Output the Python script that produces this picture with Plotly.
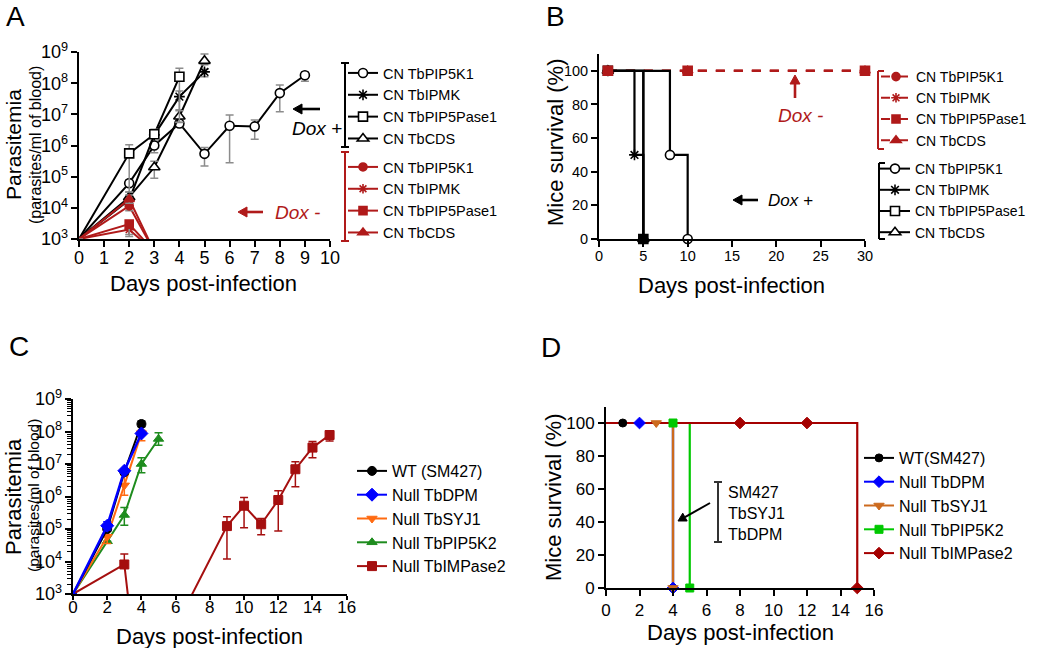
import numpy as np
import plotly.graph_objects as go

W, H = 1050, 648
FONT = "Liberation Sans, Arial, Helvetica, sans-serif"
RED = "#B01A1A"
GRAY = "#8C8C8C"

# ---------------- Panel A: parasitemia (parasites/ml) ----------------
a_days_k1 = [0, 2, 3, 4, 5, 6, 7, 8, 9]
a_k1_plus = [1e3, 6.2e4, 1.0e6, 5.1e6, 5.4e5, 4.3e6, 4.1e6, 4.8e7, 1.8e8]
a_k1_plus_hi = [1e3, 8.0e4, 1.4e6, 6.3e6, 8.7e5, 9.5e6, 6.6e6, 8.7e7, 2.3e8]
a_k1_plus_lo = [1e3, 5.0e4, 5.9e5, 4.0e6, 2.2e5, 2.8e5, 1.6e6, 1.2e7, 1.15e8]

a_days_ipmk = [0, 2, 3, 4, 5]
a_ipmk_plus = [1e3, 1.8e4, 2.2e6, 3.7e7, 2.3e8]
a_ipmk_plus_hi = [1e3, 2.5e4, 2.8e6, 5.6e7, 2.8e8]
a_ipmk_plus_lo = [1e3, 1.4e4, 1.8e6, 1.4e7, 1.6e8]

a_days_pase = [0, 2, 3, 4]
a_pase_plus = [1e3, 5.6e5, 2.3e6, 1.6e8]
a_pase_plus_hi = [1e3, 1.05e6, 3.3e6, 3.0e8]
a_pase_plus_lo = [1e3, 3.2e4, 1.95e6, 5.6e6]

a_days_cds = [0, 2, 3, 4, 5]
a_cds_plus = [1e3, 2.2e4, 2.0e5, 8.5e6, 5.2e8]
a_cds_plus_hi = [1e3, 3.2e4, 3.1e5, 1.3e7, 8.7e8]
a_cds_plus_lo = [1e3, 1.6e4, 8.9e4, 5.5e6, 3.9e8]

a_days_minus = [0, 2, 3]
a_k1_minus = [1e3, 1.15e4, 4e2]
a_k1_minus_hi = [1e3, 1.7e4, 4e2]
a_k1_minus_lo = [1e3, 8.0e3, 4e2]
a_ipmk_minus = [1e3, 2.0e3, 4e2]
a_ipmk_minus_hi = [1e3, 2.6e3, 4e2]
a_ipmk_minus_lo = [1e3, 1.4e3, 4e2]
a_pase_minus = [1e3, 3.0e3, 4e2]
a_pase_minus_hi = [1e3, 3.6e3, 4e2]
a_pase_minus_lo = [1e3, 1.2e3, 4e2]
a_cds_minus = [1e3, 1.9e4, 4e2]
a_cds_minus_hi = [1e3, 2.6e4, 4e2]
a_cds_minus_lo = [1e3, 1.4e4, 4e2]

# ---------------- Panel B: survival (%) ----------------
b_days_minus = [1, 10, 30]
b_k1_minus = [100, 100, 100]
b_ipmk_minus = [100, 100, 100]
b_pase_minus = [100, 100, 100]
b_cds_minus = [100, 100, 100]
b_days_k1 = [1, 8, 10]
b_k1_plus = [100, 50, 0]
b_days_ipmk = [1, 4, 5]
b_ipmk_plus = [100, 50, 0]
b_days_pase = [1, 5]
b_pase_plus = [100, 0]
b_days_cds = [1, 5]
b_cds_plus = [100, 0]

# ---------------- Panel C: parasitemia (parasites/ml) ----------------
c_days_wt = [0, 2, 3, 4]
c_wt = [1e3, 1.0e5, 5.6e6, 1.7e8]
c_wt_hi = [1e3, 1.15e5, 6.3e6, 2.1e8]
c_wt_lo = [1e3, 8.7e4, 5.0e6, 1.4e8]
c_days_dpm = [0, 2, 3, 4]
c_dpm = [1e3, 1.26e5, 6.2e6, 8.7e7]
c_dpm_hi = [1e3, 1.66e5, 6.9e6, 9.5e7]
c_dpm_lo = [1e3, 9.3e4, 5.5e6, 8.0e7]
c_days_syj = [0, 2, 3, 4]
c_syj = [1e3, 5.8e4, 2.2e6, 8.9e7]
c_syj_hi = [1e3, 6.6e4, 4.6e6, 1.1e8]
c_syj_lo = [1e3, 3.6e4, 1.1e6, 5.2e7]
c_days_k2 = [0, 2, 3, 4, 5]
c_k2 = [1e3, 4.2e4, 2.7e5, 1.0e7, 5.9e7]
c_k2_hi = [1e3, 4.2e4, 4.6e5, 1.55e7, 9.1e7]
c_k2_lo = [1e3, 4.2e4, 1.3e5, 5.4e6, 3.8e7]
c_days_imp = [0, 3, 4, 6, 9, 10, 11, 12, 13, 14, 15]
c_imp = [1e3, 8.1e3, 0.25, 100, 1.23e5, 5.2e5, 1.4e5, 7.8e5, 6.9e6, 3.2e7, 7.8e7]
c_imp_hi = [1e3, 1.7e4, 0.25, 100, 2.4e5, 9.3e5, 2.1e5, 1.5e6, 1.17e7, 4.9e7, 9.1e7]
c_imp_lo = [1e3, 8.1e3, 0.25, 100, 1.2e4, 1.1e5, 6.6e4, 8.7e4, 2.0e6, 1.55e7, 5.1e7]

# ---------------- Panel D: survival (%) ----------------
d_days_wt = [0, 1, 4]
d_wt = [100, 100, 0]
d_days_dpm = [0, 2, 4]
d_dpm = [100, 100, 0]
d_days_syj = [0, 3, 4]
d_syj = [100, 100, 0]
d_days_k2 = [0, 4, 5]
d_k2 = [100, 100, 0]
d_days_imp = [0, 8, 12, 15]
d_imp = [100, 100, 100, 0]

names_a = ["CN TbPIP5K1", "CN TbIPMK", "CN TbPIP5Pase1", "CN TbCDS"]
names_c = ["WT (SM427)", "Null TbDPM", "Null TbSYJ1", "Null TbPIP5K2", "Null TbIMPase2"]
names_d = ["WT(SM427)", "Null TbDPM", "Null TbSYJ1", "Null TbPIP5K2", "Null TbIMPase2"]


def px(x):
    return x / W


def py(y):
    return 1 - y / H


def line_tr(x, y, color, xa, ya, width=2, dash="solid", shape="linear"):
    return go.Scatter(x=x, y=y, mode="lines", xaxis=xa, yaxis=ya, showlegend=False,
                      hoverinfo="skip",
                      line=dict(color=color, width=width, dash=dash, shape=shape))


def mark_tr(x, y, xa, ya, symbol, size, fill, edge, ew, lo=None, hi=None,
            ecolor=None, mask=None):
    x = np.asarray(x, float)
    y = np.asarray(y, float)
    if mask is None:
        mask = np.ones(len(x), bool)
    err = None
    if lo is not None:
        lo = np.asarray(lo, float)
        hi = np.asarray(hi, float)
        err = dict(type="data", symmetric=False, array=(hi - y)[mask],
                   arrayminus=(y - lo)[mask], color=ecolor, thickness=1.5, width=4)
    return go.Scatter(x=x[mask], y=y[mask], mode="markers", xaxis=xa, yaxis=ya,
                      showlegend=False, hoverinfo="skip", cliponaxis=False,
                      marker=dict(symbol=symbol, size=size, color=fill,
                                  line=dict(color=edge, width=ew)),
                      error_y=err)


def leg_tr(name, legend, color, symbol, size, fill, edge, ew, width=2, dash="solid"):
    return go.Scatter(x=[None], y=[None], mode="lines+markers", name=name,
                      legend=legend, xaxis="x", yaxis="y", showlegend=True,
                      line=dict(color=color, width=width, dash=dash),
                      marker=dict(symbol=symbol, size=size, color=fill,
                                  line=dict(color=edge, width=ew)))


fig = go.Figure()

# ---------- Panel A traces ----------
a_plus = [
    (a_days_k1, a_k1_plus, a_k1_plus_lo, a_k1_plus_hi, "circle", 9, "white", 1.6),
    (a_days_ipmk, a_ipmk_plus, a_ipmk_plus_lo, a_ipmk_plus_hi, "asterisk-open", 9, "black", 1.6),
    (a_days_cds, a_cds_plus, a_cds_plus_lo, a_cds_plus_hi, "triangle-up", 10, "white", 1.6),
    (a_days_pase, a_pase_plus, a_pase_plus_lo, a_pase_plus_hi, "square", 9, "white", 1.6),
]
for d, v, lo, hi, sym, sz, fill, ew in a_plus:
    fig.add_trace(line_tr(d, v, "black", "x", "y", width=2))
    fig.add_trace(mark_tr(d, v, "x", "y", sym, sz, fill, "black", ew, lo, hi, GRAY,
                          mask=np.asarray(v) >= 1e3))
a_minus = [
    (a_k1_minus, a_k1_minus_lo, a_k1_minus_hi, "circle", 8),
    (a_ipmk_minus, a_ipmk_minus_lo, a_ipmk_minus_hi, "asterisk-open", 8),
    (a_cds_minus, a_cds_minus_lo, a_cds_minus_hi, "triangle-up", 9),
    (a_pase_minus, a_pase_minus_lo, a_pase_minus_hi, "square", 8),
]
for v, lo, hi, sym, sz in a_minus:
    fig.add_trace(line_tr(a_days_minus, v, RED, "x", "y", width=2))
    fig.add_trace(mark_tr(a_days_minus, v, "x", "y", sym, sz, RED, RED, 1.6, lo, hi, GRAY,
                          mask=np.asarray(v) >= 1e3))

# ---------- Panel B traces ----------
b_minus = [(b_k1_minus, "circle", 8), (b_ipmk_minus, "asterisk-open", 8),
           (b_cds_minus, "triangle-up", 9), (b_pase_minus, "square", 9)]
for v, sym, sz in b_minus:
    fig.add_trace(line_tr(b_days_minus, v, RED, "x2", "y2", width=2, dash="dash"))
b_plus = [(b_days_k1, b_k1_plus, "circle", 9, "white"),
          (b_days_ipmk, b_ipmk_plus, "asterisk-open", 9, "black"),
          (b_days_cds, b_cds_plus, "triangle-up", 10, "white"),
          (b_days_pase, b_pase_plus, "square", 9, "black")]
for d, v, sym, sz, fill in b_plus:
    fig.add_trace(line_tr(d, v, "black", "x2", "y2", width=2.2, shape="hv"))
for d, v, sym, sz, fill in b_plus:
    fig.add_trace(mark_tr(d, v, "x2", "y2", sym, sz, fill, "black", 1.6))
for v, sym, sz in b_minus:
    fig.add_trace(mark_tr(b_days_minus, v, "x2", "y2", sym, sz, RED, RED, 1.6))

# ---------- Panel C traces ----------
C_BLACK, C_BLUE, C_ORANGE, C_GREEN, C_RED = "black", "#0000FF", "#FF6A10", "#1E8C1E", "#A50F0F"
c_series = [
    (c_days_imp, c_imp, c_imp_lo, c_imp_hi, C_RED, "square", 9, 2),
    (c_days_k2, c_k2, c_k2_lo, c_k2_hi, C_GREEN, "triangle-up", 9, 2),
    (c_days_syj, c_syj, c_syj_lo, c_syj_hi, C_ORANGE, "triangle-down", 9, 2),
    (c_days_wt, c_wt, c_wt_lo, c_wt_hi, C_BLACK, "circle", 9, 2),
    (c_days_dpm, c_dpm, c_dpm_lo, c_dpm_hi, C_BLUE, "diamond", 10, 2.5),
]
for d, v, lo, hi, col, sym, sz, lw in c_series:
    fig.add_trace(line_tr(d, v, col, "x3", "y3", width=lw))
    fig.add_trace(mark_tr(d, v, "x3", "y3", sym, sz, col, col, 1, lo, hi, col,
                          mask=np.asarray(v) >= 1e3))

# ---------- Panel D traces ----------
D_BLACK, D_BLUE, D_ORANGE, D_GREEN, D_RED = "black", "#0000FF", "#CC6A1E", "#00C800", "#A50000"
d_series = [
    (d_days_wt, d_wt, D_BLACK, "circle", 8),
    (d_days_dpm, d_dpm, D_BLUE, "diamond", 9),
    (d_days_syj, d_syj, D_ORANGE, "triangle-down", 9),
    (d_days_k2, d_k2, D_GREEN, "square", 8),
    (d_days_imp, d_imp, D_RED, "diamond", 9),
]
for d, v, col, sym, sz in d_series:
    fig.add_trace(line_tr(d, v, col, "x4", "y4", width=2.2, shape="hv"))
for d, v, col, sym, sz in d_series:
    fig.add_trace(mark_tr(d, v, "x4", "y4", sym, sz, col, col, 1,
                          mask=np.asarray(d) > 0))

# ---------- Legend entries ----------
a_leg_sym = [("circle", 9), ("asterisk-open", 9), ("square", 9), ("triangle-up", 10)]
for nm, (sym, sz) in zip(names_a, a_leg_sym):
    fill = "black" if sym == "asterisk-open" else "white"
    fig.add_trace(leg_tr(nm, "legend", "black", sym, sz, fill, "black", 1.6))
for nm, (sym, sz) in zip(names_a, a_leg_sym):
    fig.add_trace(leg_tr(nm, "legend2", RED, sym, sz - 1, RED, RED, 1.6))
for nm, (sym, sz) in zip(names_a, a_leg_sym):
    fig.add_trace(leg_tr(nm, "legend3", RED, sym, sz - 1, RED, RED, 1.6, dash="dash"))
for nm, (sym, sz) in zip(names_a, a_leg_sym):
    fill = "black" if sym == "asterisk-open" else "white"
    fig.add_trace(leg_tr(nm, "legend4", "black", sym, sz, fill, "black", 1.6))
c_leg = [(C_BLACK, "circle", 9), (C_BLUE, "diamond", 10), (C_ORANGE, "triangle-down", 9),
         (C_GREEN, "triangle-up", 9), (C_RED, "square", 9)]
for nm, (col, sym, sz) in zip(names_c, c_leg):
    fig.add_trace(leg_tr(nm, "legend5", col, sym, sz, col, col, 1))
d_leg = [(D_BLACK, "circle", 8), (D_BLUE, "diamond", 9), (D_ORANGE, "triangle-down", 9),
         (D_GREEN, "square", 8), (D_RED, "diamond", 9)]
for nm, (col, sym, sz) in zip(names_d, d_leg):
    fig.add_trace(leg_tr(nm, "legend6", col, sym, sz, col, col, 1))

# ---------- Axes ----------
def ax_style(size, ticklen=6, standoff=0):
    return dict(showline=True, linecolor="black", linewidth=2, ticks="outside",
                ticklen=ticklen, tickwidth=2, tickcolor="black", showgrid=False,
                zeroline=False, mirror=False, ticklabelstandoff=standoff,
                tickfont=dict(family=FONT, size=size, color="black"))


log_y = dict(type="log", range=[3, 9], dtick=1, tick0=0, exponentformat="power",
             showexponent="all")

fig.update_layout(
    xaxis=dict(domain=[px(79), px(330)], range=[0, 10], dtick=1, anchor="y",
               **ax_style(18, standoff=-5)),
    yaxis=dict(domain=[py(239), py(52)], anchor="x", **log_y, **ax_style(14.5)),
    xaxis2=dict(domain=[px(599), px(865)], range=[0, 30], dtick=5, anchor="y2",
                **ax_style(14.5, standoff=-3)),
    yaxis2=dict(domain=[py(239), py(54)], range=[0, 110], dtick=20, tick0=0, anchor="x2",
                **ax_style(14.5)),
    xaxis3=dict(domain=[px(73), px(346.7)], range=[0, 16], dtick=2, anchor="y3",
                **ax_style(17, ticklen=4, standoff=-7)),
    yaxis3=dict(domain=[py(594), py(399)], anchor="x3", **log_y, **ax_style(14.5),
                minor=dict(ticks="outside", ticklen=4, tickwidth=1.2, tickcolor="black",
                           dtick="D1")),
    xaxis4=dict(domain=[px(606), px(874)], range=[0, 16], dtick=2, anchor="y4",
                **ax_style(17)),
    yaxis4=dict(domain=[py(588), py(406.5)], range=[0, 110], dtick=20, tick0=0, anchor="x4",
                **ax_style(17)),
)

# ---------- Legends ----------
def leg(x, y, size):
    return dict(x=px(x), y=py(y), xanchor="left", yanchor="top", bgcolor="rgba(0,0,0,0)",
                borderwidth=0, tracegroupgap=0, itemclick=False, itemdoubleclick=False,
                font=dict(family=FONT, size=size, color="black"))


fig.update_layout(
    legend=leg(343, 57, 14.5),
    legend2=leg(343, 151, 14.5),
    legend3=leg(876, 61, 14),
    legend4=leg(875, 153, 14),
    legend5=leg(352, 454, 16),
    legend6=leg(859, 441, 16),
)

# ---------- Brackets and arrows (shapes) ----------
shapes = []


def seg(x0, y0, x1, y1, color, width=2):
    shapes.append(dict(type="line", xref="paper", yref="paper", x0=px(x0), x1=px(x1),
                       y0=py(y0), y1=py(y1), line=dict(color=color, width=width)))


def bracket(x, y0, y1, color, cap_l, cap_r):
    seg(x, y0, x, y1, color)
    for yy in (y0, y1):
        seg(x - cap_l, yy, x + cap_r, yy, color)


def arrow(hx, hy, tx, ty, color, width=2.6, hl=9.0, hw=5.0):
    d = np.array([hx - tx, hy - ty], float)
    L = np.hypot(*d)
    u = d / L
    n = np.array([-u[1], u[0]])
    base = np.array([hx, hy]) - u * hl
    seg(tx, ty, base[0], base[1], color, width)
    p1 = base + n * hw
    p2 = base - n * hw
    path = "M {:.5f},{:.5f} L {:.5f},{:.5f} L {:.5f},{:.5f} Z".format(
        px(hx), py(hy), px(p1[0]), py(p1[1]), px(p2[0]), py(p2[1]))
    shapes.append(dict(type="path", xref="paper", yref="paper", path=path,
                       fillcolor=color, line=dict(color=color, width=1)))


bracket(345, 63, 147, "black", 4, 4)
bracket(345, 152, 241, RED, 4, 4)
bracket(878, 71, 149, RED, 0, 6)
bracket(879, 163, 239, "black", 0, 6)
bracket(718, 482, 542, "#333333", 4, 4)
arrow(293, 109, 320, 109, "black")
arrow(238, 212, 263, 212, RED)
arrow(795, 75, 795, 98, RED)
arrow(733, 200, 758, 200, "black")
arrow(678, 521, 710, 503, "black", width=2, hl=8, hw=4.5)
fig.update_layout(shapes=shapes)

# ---------- Annotations ----------
ann = []


def text(x, y, s, size, color="black", angle=0, xanchor="center", align="center"):
    ann.append(dict(x=px(x), y=py(y), xref="paper", yref="paper", text=s, showarrow=False,
                    textangle=angle, xanchor=xanchor, yanchor="middle", align=align,
                    font=dict(family=FONT, size=size, color=color)))


text(15, 16, "A", 28)
text(555, 16, "B", 28)
text(19, 346, "C", 28)
text(551, 347, "D", 28)
text(203, 283, "Days post-infection", 22)
text(13, 145, "Parasitemia", 21, angle=-90)
text(35, 145, "(parasites/ml of blood)", 16, angle=-90)
text(731, 285, "Days post-infection", 22)
text(555, 143, "Mice survival (%)", 22, angle=-90)
text(209, 636, "Days post-infection", 22)
text(13, 497, "Parasitemia", 22, angle=-90)
text(33, 496, "(parasites/ml of blood)", 15.5, angle=-90)
text(740, 632, "Days post-infection", 22)
text(553, 498, "Mice survival (%)", 22, angle=-90)
text(317, 128, "<i>Dox +</i>", 19)
text(297, 212, "<i>Dox -</i>", 19, color=RED)
text(800, 115, "<i>Dox -</i>", 19, color=RED)
text(790, 200, "<i>Dox +</i>", 17)
text(726, 513, "SM427<br>TbSYJ1<br>TbDPM", 16, xanchor="left", align="left")
fig.update_layout(annotations=ann)

fig.update_layout(
    width=W, height=H, margin=dict(l=0, r=0, t=0, b=0, autoexpand=False),
    plot_bgcolor="white", paper_bgcolor="white",
    font=dict(family=FONT, color="black"),
)

fig.write_html("out.html", config={"displayModeBar": False},
               post_script="document.body.style.margin='0';")
